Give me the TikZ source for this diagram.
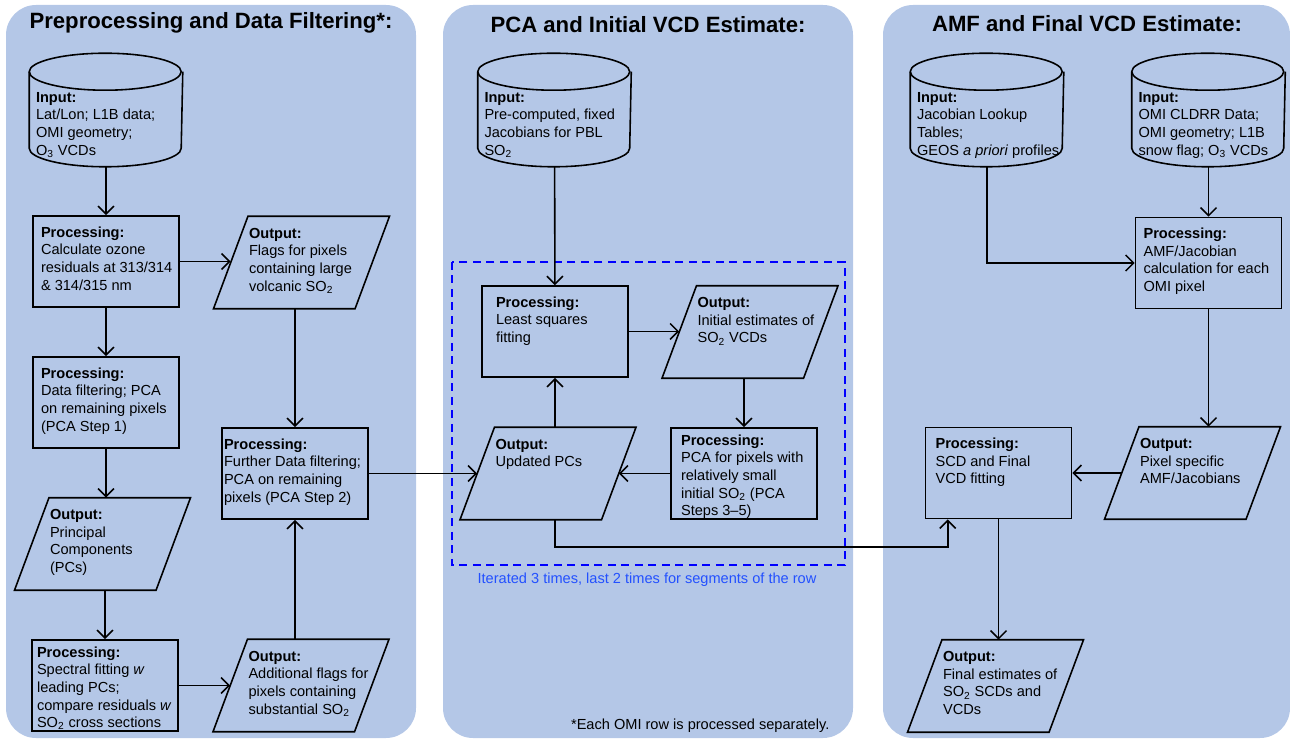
\documentclass[tikz,border=0pt]{standalone}
\usepackage{fontspec}
\setmainfont{Liberation Sans}
\usetikzlibrary{arrows.meta,calc}
\definecolor{panelblue}{RGB}{180,199,231}
\definecolor{iterblue}{RGB}{35,80,255}
\newcommand{\inptext}[1]{\makebox[28mm][l]{\parbox[c][18.8mm][t]{32mm}{\raggedright\vspace*{5.4mm}\strut\textbf{Input:}\\#1}}}
\newcommand{\proctext}[2][26mm]{\makebox[#1][l]{\parbox[c][14.6mm][t]{32mm}{\raggedright\strut\textbf{Processing:}\\#2}}}
\newcommand{\proctextfull}[2][26mm]{\makebox[#1][l]{\parbox[c][16.2mm][t]{32mm}{\raggedright\strut\textbf{Processing:}\\#2}}}
\newcommand{\outtext}[1]{\makebox[21mm][l]{\parbox[c][14.6mm][t]{32mm}{\raggedright\strut\textbf{Output:}\\#1}}}
\tikzset{
	panel/.style={fill=panelblue, rounded corners=6mm},
	inbox/.style={rectangle, inner sep=0pt, minimum width=30.4mm, minimum height=22.4mm},
	procbox/.style={rectangle, draw, inner sep=0pt, minimum width=29.2mm, minimum height=18.2mm},
	outbox/.style={rectangle, inner sep=0pt, minimum width=28mm, minimum height=18.2mm},
	flow/.style={-{Straight Barb[length=1.6mm,width=3.2mm]}},
	paneltitle/.style={font=\fontsize{12.6}{15}\selectfont\bfseries},
	iterbox/.style={draw=blue, line width=1.1pt, dash pattern=on 1.6mm off 1.1mm},
	iternote/.style={text=iterblue},
}
\begin{document}
\begin{tikzpicture}[x=0.02cm, y=-0.02cm, line width=0.9pt, every node/.style={font=\fontsize{8.3}{10}\selectfont}]
		%%%%% START %%%%%
		\useasboundingbox (0,0) rectangle (1290,739);
		\fill[panel] (6,5) rectangle (416,738);
		\fill[panel] (443,5) rectangle (853,738);
		\fill[panel] (883,5) rectangle (1290,738);
		
		\node[paneltitle] (t1) at (211,23) {Preprocessing and Data Filtering*:};
		\node[paneltitle] (t2) at (648,25) {PCA and Initial VCD Estimate:};
		\node[paneltitle] (t3) at (1087,24) {AMF and Final VCD Estimate:};
		
		% preprocessing
		\node[inbox] (in1) at (106,110) {\inptext{Lat/Lon; L1B data;\\OMI geometry;\\O\textsubscript{3} VCDs}};
		\node[procbox] (p1) at (106,261.5) {\proctext{Calculate ozone\\residuals at 313/314\\\& 314/315 nm}};
		\node[outbox] (o1) at (301.5,262.5) {\outtext{Flags for pixels\\containing large\\volcanic SO\textsubscript{2}}};
		\node[procbox] (p2) at (106,402.5) {\proctext{Data filtering; PCA\\on remaining pixels\\(PCA Step 1)}};
		\node[procbox] (p3) at (295,473.5) {\proctext[28.4mm]{Further Data filtering;\\PCA on remaining\\pixels (PCA Step 2)}};
		\node[outbox] (o2) at (102.5,544) {\outtext{Principal\\Components\\(PCs)}};
		\node[procbox] (p4) at (105,685.5) {\proctextfull[27.2mm]{Spectral fitting \textit{w}\\leading PCs;\\compare residuals \textit{w}\\SO\textsubscript{2} cross sections}};
		\node[outbox] (o3) at (301,685.5) {\outtext{Additional flags for\\pixels containing\\substantial SO\textsubscript{2}}};
		
		% pca loop
		\node[inbox] (in2) at (554.5,110) {\inptext{Pre-computed, fixed\\Jacobians for PBL\\SO\textsubscript{2}}};
		\node[procbox] (p5) at (555,331.5) {\proctext[23.6mm]{Least squares\\fitting}};
		\node[outbox] (o4) at (750,332) {\outtext{Initial estimates of\\SO\textsubscript{2} VCDs}};
		\node[outbox] (o5) at (548,473.5) {\outtext{Updated PCs}};
		\node[procbox] (p6) at (744,473.5) {\proctextfull[25.2mm]{PCA for pixels with\\relatively small\\initial SO\textsubscript{2} (PCA\\Steps 3--5)}};
		\draw[iterbox] (452,262) rectangle (845,565);
		\node[iternote] (itn) at (647,580) {Iterated 3 times, last 2 times for segments of the row};
		\node[anchor=east] (fn) at (836,726) {*Each OMI row is processed separately.};
		
		% amf
		\node[inbox] (in3) at (987,110) {\inptext{Jacobian Lookup\\Tables;\\GEOS \textit{a priori} profiles}};
		\node[inbox] (in4) at (1208.5,110) {\inptext{OMI CLDRR Data;\\OMI geometry; L1B\\snow flag; O\textsubscript{3} VCDs}};
		\node[procbox] (p8) at (1208.5,263) {\proctext{AMF/Jacobian\\calculation for each\\OMI pixel}};
		\node[outbox] (o6) at (1192.5,473) {\outtext{Pixel specific\\AMF/Jacobians}};
		\node[procbox] (p7) at (998.5,473) {\proctext[25.2mm]{SCD and Final\\VCD fitting}};
		\node[outbox] (o7) at (995.5,686) {\outtext{Final estimates of\\SO\textsubscript{2} SCDs and\\VCDs}};
		
		% cylinders and parallelograms
		\foreach \n in {in1,in2,in3,in4} {
			\draw ([yshift=-3.7mm]\n.north west) arc[start angle=180, end angle=-180, x radius=15.2mm, y radius=3.7mm];
			\draw ([yshift=-3.7mm]\n.north west) -- ([yshift=3.7mm]\n.south west) arc[start angle=180, end angle=360, x radius=15.2mm, y radius=3.7mm] -- ([yshift=-3.7mm]\n.north east);
		}
		\foreach \n in {o1,o2,o3,o4,o5,o6,o7}
			\draw ([xshift=3.45mm]\n.north west) -- ([xshift=3.45mm]\n.north east) -- ([xshift=-3.45mm]\n.south east) -- ([xshift=-3.45mm]\n.south west) -- cycle;
		
		% arrows
		\draw[flow] (in1) -- (p1);
		\draw[flow] (p1.east) -- (p1.east -| o1.west);
		\draw[flow] (p1) -- (p2);
		\draw[flow] (o1.south -| p3.north) -- (p3.north);
		\draw[flow] (p2.south) -- (p2.south |- o2.north);
		\draw[flow] (o2.south -| p4.north) -- (p4.north);
		\draw[flow] (p4.east) -- (p4.east -| o3.west);
		\draw[flow] (o3.north -| p3.south) -- (p3.south);
		\draw[flow] (p3.east) -- (p3.east -| o5.west);
		
		\draw[flow] (in2) -- (p5);
		\draw[flow] (p5.east) -- (p5.east -| o4.west);
		\draw[flow] (o4.south -| p6.north) -- (p6.north);
		\draw[flow] (p6.west) -- (o5.east);
		\draw[flow] (o5.north -| p5.south) -- (p5.south);
		\draw[flow] (o5.south -| p5.south) -- ++(0,27) -| ($(p7.south west)!0.156!(p7.south east)$);
		
		\draw[flow] (in3.south) |- (p8.west);
		\draw[flow] (in4) -- (p8);
		\draw[flow] (p8.south) -- (p8.south |- o6.north);
		\draw[flow] (o6.west) -- (p7.east);
		\draw[flow] (p7.south) -- (p7.south |- o7.north);
		%%%%% END %%%%%
\end{tikzpicture}
\end{document}
